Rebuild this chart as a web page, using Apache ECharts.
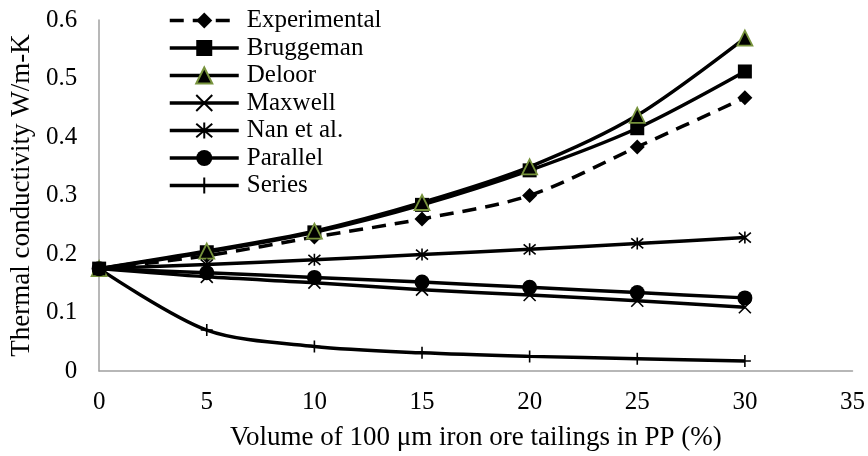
<!DOCTYPE html>
<html>
<head>
<meta charset="utf-8">
<script src="https://cdn.jsdelivr.net/npm/echarts@6/dist/echarts.min.js"></script>
<style>
  html, body { margin: 0; padding: 0; background: #fff; }
  #chart { width: 868px; height: 456px; }
</style>
</head>
<body>
<div id="chart"></div>
<script>
// volume fraction (%)
var volume = [0, 5, 10, 15, 20, 25, 30];

// thermal conductivity, W/m-K
var experimental = [0.175, 0.197, 0.229, 0.260, 0.300, 0.383, 0.467];
var bruggeman    = [0.175, 0.203, 0.237, 0.284, 0.343, 0.415, 0.512];
var deloor       = [0.175, 0.205, 0.239, 0.288, 0.349, 0.437, 0.569];
var maxwell      = [0.175, 0.161, 0.151, 0.139, 0.130, 0.120, 0.109];
var nanEtAl      = [0.175, 0.182, 0.190, 0.199, 0.208, 0.218, 0.228];
var parallel     = [0.175, 0.168, 0.160, 0.152, 0.143, 0.134, 0.125];
var seriesModel  = [0.175, 0.070, 0.042, 0.031, 0.025, 0.021, 0.017];

var FONT = '"Liberation Serif", "Times New Roman", serif';

function pairs(ys) {
    return volume.map(function (x, i) { return [x, ys[i]]; });
}

var xMark    = 'path://M0 0L10 10M10 0L0 10';
var starMark = 'path://M0 0L10 10M10 0L0 10M5 -1L5 11';
var plusMark = 'path://M0 5L10 5M5 -1L5 11';

function line(name, ys, symbol, size, extra) {
    var s = {
        name: name,
        type: 'line',
        smooth: 0.3,
        data: pairs(ys),
        symbol: symbol,
        symbolSize: size,
        showAllSymbol: true,
        lineStyle: { color: '#000', width: 3.5 },
        itemStyle: { color: '#000' }
    };
    if (extra) {
        for (var k in extra) { s[k] = extra[k]; }
    }
    return s;
}

var chart = echarts.init(document.getElementById('chart'));

var option = {
    animation: false,
    backgroundColor: '#fff',
    textStyle: { fontFamily: FONT, color: '#000' },
    grid: { left: 99, right: 14, top: 20, bottom: 85 },
    legend: {
        left: 163,
        top: 3,
        orient: 'vertical',
        itemWidth: 69,
        itemHeight: 20,
        itemGap: 2.5,
        lineStyle: { width: 3.5 },
        textStyle: { fontFamily: FONT, fontSize: 25, color: '#000', padding: [0, 0, 0, 3] },
        data: ['Experimental', 'Bruggeman', 'Deloor', 'Maxwell', 'Nan et al.', 'Parallel', 'Series']
    },
    xAxis: {
        type: 'value',
        min: 0,
        max: 35,
        interval: 5,
        name: 'Volume of 100 μm iron ore tailings in PP (%)',
        nameLocation: 'middle',
        nameGap: 53,
        nameTextStyle: { fontFamily: FONT, fontSize: 27, color: '#000' },
        axisLine: { show: true, lineStyle: { color: '#a0a0a0', width: 1.5 } },
        axisTick: { show: false },
        splitLine: { show: false },
        axisLabel: { fontFamily: FONT, fontSize: 25, color: '#000', margin: 19 }
    },
    yAxis: {
        type: 'value',
        min: 0,
        max: 0.6,
        interval: 0.1,
        name: 'Thermal conductivity W/m-K',
        nameLocation: 'middle',
        nameGap: 63,
        nameTextStyle: { fontFamily: FONT, fontSize: 27, color: '#000' },
        axisLine: { show: true, lineStyle: { color: '#a0a0a0', width: 1.5 } },
        axisTick: { show: false },
        splitLine: { show: false },
        axisLabel: { fontFamily: FONT, fontSize: 25, color: '#000', margin: 22 }
    },
    series: [
        line('Experimental', experimental, 'diamond', 15, {
            lineStyle: { color: '#000', width: 3.5, type: [14, 9] }
        }),
        line('Bruggeman', bruggeman, 'rect', 14),
        line('Deloor', deloor, 'triangle', 15, {
            itemStyle: { color: '#000', borderColor: '#77933c', borderWidth: 1.8 }
        }),
        line('Maxwell', maxwell, xMark, 12, {
            itemStyle: { color: '#000', borderColor: '#000', borderWidth: 1.6 }
        }),
        line('Nan et al.', nanEtAl, starMark, 12, {
            itemStyle: { color: '#000', borderColor: '#000', borderWidth: 1.6 }
        }),
        line('Parallel', parallel, 'circle', 15),
        line('Series', seriesModel, plusMark, 12, {
            itemStyle: { color: '#000', borderColor: '#000', borderWidth: 1.6 }
        })
    ]
};

chart.setOption(option);
</script>
</body>
</html>
